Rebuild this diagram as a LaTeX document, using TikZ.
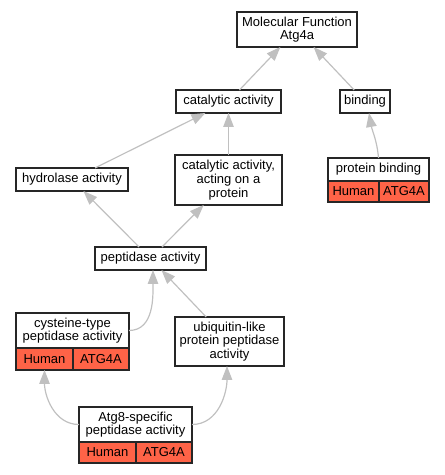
\documentclass[tikz,border=0pt]{standalone}
\usepackage{fontspec}
\setmainfont{Liberation Sans}
\usepackage{xcolor}
\usetikzlibrary{arrows.meta,positioning}
\definecolor{hitred}{RGB}{255,99,71}
\definecolor{edgegray}{RGB}{192,192,192}

\begin{document}
\begin{tikzpicture}[x=1bp,y=1bp,
    term/.style={draw=black!85, fill=white, line width=1.4bp, outer sep=0pt, inner sep=0pt, align=center, font=\fontsize{13bp}{13.7bp}\selectfont},
    cell/.style={draw=black!85, fill=hitred, line width=1.4bp, outer sep=0pt, inner sep=0pt, minimum height=21bp, font=\fontsize{13bp}{13.7bp}\selectfont},
    isa/.style={draw=edgegray, line width=1.2bp, -{Triangle[length=14bp,width=10.5bp]}}]

    \useasboundingbox (0,0) rectangle (445,475);

    % terms
    \node[term, minimum width=120bp, minimum height=35bp] (mf) at (297,445.5) {Molecular Function\\Atg4a};
    \node[term, minimum width=105bp, minimum height=23bp] (cat) at (228.5,373.5) {catalytic activity};
    \node[term, minimum width=50bp, minimum height=23bp] (binding) at (365,373.5) {binding};
    \node[term, minimum width=112bp, minimum height=23bp] (hydro) at (72,295.5) {hydrolase activity};
    \node[term, minimum width=107bp, minimum height=50bp] (catact) at (228.5,295) {catalytic activity,\\acting on a\\protein};
    \node[term, minimum width=101bp, minimum height=23bp] (pbind) at (378.5,305.5) {protein binding};
    \node[term, minimum width=111bp, minimum height=23bp] (pept) at (150.5,216.5) {peptidase activity};
    \node[term, minimum width=113bp, minimum height=35bp] (cyst) at (72.5,144.5) {cysteine-type\\peptidase activity};
    \node[term, minimum width=109bp, minimum height=49bp] (ubiq) at (229.5,133.5) {ubiquitin-like\\protein peptidase\\activity};
    \node[term, minimum width=113bp, minimum height=35bp] (atg8) at (135.5,50.5) {Atg8-specific\\peptidase activity};

    % annotation cells
    \node[cell, minimum width=51bp, anchor=north west] (pbindH) at (pbind.south west) {Human};
    \node[cell, minimum width=50bp, right=0pt of pbindH] (pbindA) {ATG4A};
    \node[cell, minimum width=57bp, minimum height=22bp, anchor=north west] (cystH) at (cyst.south west) {Human};
    \node[cell, minimum width=56bp, minimum height=22bp, right=0pt of cystH] (cystA) {ATG4A};
    \node[cell, minimum width=57bp, anchor=north west] (atg8H) at (atg8.south west) {Human};
    \node[cell, minimum width=56bp, right=0pt of atg8H] (atg8A) {ATG4A};

    % is_a edges
    \draw[isa] (cat) -- (mf);
    \draw[isa] (binding) -- (mf);
    \draw[isa] (hydro) -- (cat);
    \draw[isa] (catact) -- (cat);
    \draw[isa] (pbind.north) to[out=95,in=-80] ([xshift=4bp]binding.south);
    \draw[isa] (pept) -- (hydro);
    \draw[isa] (pept) -- (catact);
    \draw[isa] (cyst.east) to[out=0,in=-90] ([xshift=2.5bp]pept.south);
    \draw[isa] (ubiq) -- (pept);
    \draw[isa] (atg8.west) to[out=180,in=-90] (cystH.south);
    \draw[isa] (atg8.east) to[out=0,in=-90] ([xshift=-2.5bp]ubiq.south);
\end{tikzpicture}
\end{document}
